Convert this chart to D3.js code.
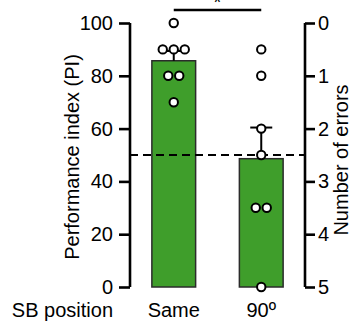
<!DOCTYPE html>
<meta charset="utf-8">
<head>
    <script src="https://d3js.org/d3.v7.min.js"></script>
    <style>
        body { margin: 0; background: #fff; }
        text { font-family: "Liberation Sans", Arial, Helvetica, sans-serif; fill: #000; }
        .title { font-size: 20px; }
    </style>
    <title>Performance index</title>
</head>
<body>
<svg id="chart" width="353" height="321"></svg>

<script>
    // data
    var groups = ["Same", "90º"];
    var barValues = [85.7, 48.6];
    var semValues = [3.7, 11.8];
    var sameValues = [100, 90, 90, 90, 80, 80, 70];
    var ninetyValues = [90, 80, 60, 50, 30, 30, 0];
    var leftTicks = [0, 20, 40, 60, 80, 100];
    var rightTicks = [0, 1, 2, 3, 4, 5];
    var chanceLevel = 50;

    var svg = d3.select("#chart");

    var x = d3.scaleBand()
        .domain(groups)
        .range([130, 305])
        .paddingInner(0.5)
        .paddingOuter(0.25);

    var y = d3.scaleLinear().domain([0, 100]).range([287, 23]);
    var yErr = d3.scaleLinear().domain([0, 5]).range([23, 287]);

    // bars
    svg.selectAll("rect.bar")
        .data(groups)
        .enter().append("rect")
        .attr("class", "bar")
        .attr("x", function (d) { return x(d); })
        .attr("width", x.bandwidth())
        .attr("y", function (d, i) { return y(barValues[i]); })
        .attr("height", function (d, i) { return y(0) - y(barValues[i]); })
        .style("fill", "#3f9e2b")
        .style("stroke", "#2b2b2b")
        .style("stroke-width", 1.5);

    // dashed chance line
    svg.append("line")
        .attr("x1", 130).attr("x2", 305)
        .attr("y1", y(chanceLevel)).attr("y2", y(chanceLevel))
        .style("stroke", "#000")
        .style("stroke-width", 2.2)
        .style("stroke-dasharray", "8,5");

    // error bars (upward SEM)
    groups.forEach(function (g, i) {
        var cx = x(g) + x.bandwidth() / 2;
        var top = y(barValues[i] + semValues[i]);
        svg.append("line")
            .attr("x1", cx).attr("x2", cx)
            .attr("y1", y(barValues[i])).attr("y2", top)
            .style("stroke", "#000").style("stroke-width", 2);
        svg.append("line")
            .attr("x1", cx - 11).attr("x2", cx + 11)
            .attr("y1", top).attr("y2", top)
            .style("stroke", "#000").style("stroke-width", 2);
    });

    // individual points, spread sideways when values repeat
    function spread(values) {
        var out = [];
        var counts = d3.rollup(values, function (v) { return v.length; }, function (d) { return d; });
        var seen = new Map();
        values.forEach(function (v) {
            var n = counts.get(v);
            var k = seen.get(v) || 0;
            seen.set(v, k + 1);
            out.push({ value: v, offset: (k - (n - 1) / 2) * 11 });
        });
        return out;
    }

    [sameValues, ninetyValues].forEach(function (vals, i) {
        var cx = x(groups[i]) + x.bandwidth() / 2;
        svg.selectAll("circle.g" + i)
            .data(spread(vals))
            .enter().append("circle")
            .attr("class", "g" + i)
            .attr("cx", function (d) { return cx + d.offset; })
            .attr("cy", function (d) { return y(d.value); })
            .attr("r", 4.2)
            .style("fill", "#fff")
            .style("stroke", "#000")
            .style("stroke-width", 2);
    });

    // left axis
    var leftAxis = svg.append("g")
        .attr("transform", "translate(130,0)")
        .call(d3.axisLeft(y).tickValues(leftTicks).tickSize(11).tickPadding(6));
    leftAxis.select(".domain").attr("d", "M0," + y(0) + "V" + y(100));
    leftAxis.selectAll("line, path").style("stroke", "#000").style("stroke-width", 2.6);
    leftAxis.selectAll("text").style("font-size", "20px").attr("font-family", null);

    // right axis
    var rightAxis = svg.append("g")
        .attr("transform", "translate(305,0)")
        .call(d3.axisRight(yErr).tickValues(rightTicks).tickFormat(d3.format("d")).tickSize(10).tickPadding(3));
    rightAxis.select(".domain").attr("d", "M0," + yErr(0) + "V" + yErr(5));
    rightAxis.selectAll("line, path").style("stroke", "#000").style("stroke-width", 2.6);
    rightAxis.selectAll("text").style("font-size", "20px").attr("font-family", null);

    // x labels
    svg.selectAll("text.xlab")
        .data(groups)
        .enter().append("text")
        .attr("class", "xlab title")
        .attr("x", function (d) { return x(d) + x.bandwidth() / 2; })
        .attr("y", 317)
        .attr("text-anchor", "middle")
        .text(function (d) { return d; });

    svg.append("text")
        .attr("class", "title")
        .attr("x", 113)
        .attr("y", 317)
        .attr("text-anchor", "end")
        .text("SB position");

    // axis titles
    svg.append("text")
        .attr("class", "title")
        .attr("transform", "translate(79,157) rotate(-90)")
        .attr("text-anchor", "middle")
        .text("Performance index (PI)");

    svg.append("text")
        .attr("class", "title")
        .attr("transform", "translate(348,160) rotate(-90)")
        .attr("text-anchor", "middle")
        .text("Number of errors");

    // significance
    svg.append("line")
        .attr("x1", x(groups[0]) + x.bandwidth() / 2)
        .attr("x2", x(groups[1]) + x.bandwidth() / 2)
        .attr("y1", 10).attr("y2", 10)
        .style("stroke", "#000").style("stroke-width", 2.6);

    svg.append("text")
        .attr("class", "title")
        .attr("x", (x(groups[0]) + x(groups[1]) + x.bandwidth()) / 2)
        .attr("y", 9)
        .attr("text-anchor", "middle")
        .text("*");
</script>
</body>
